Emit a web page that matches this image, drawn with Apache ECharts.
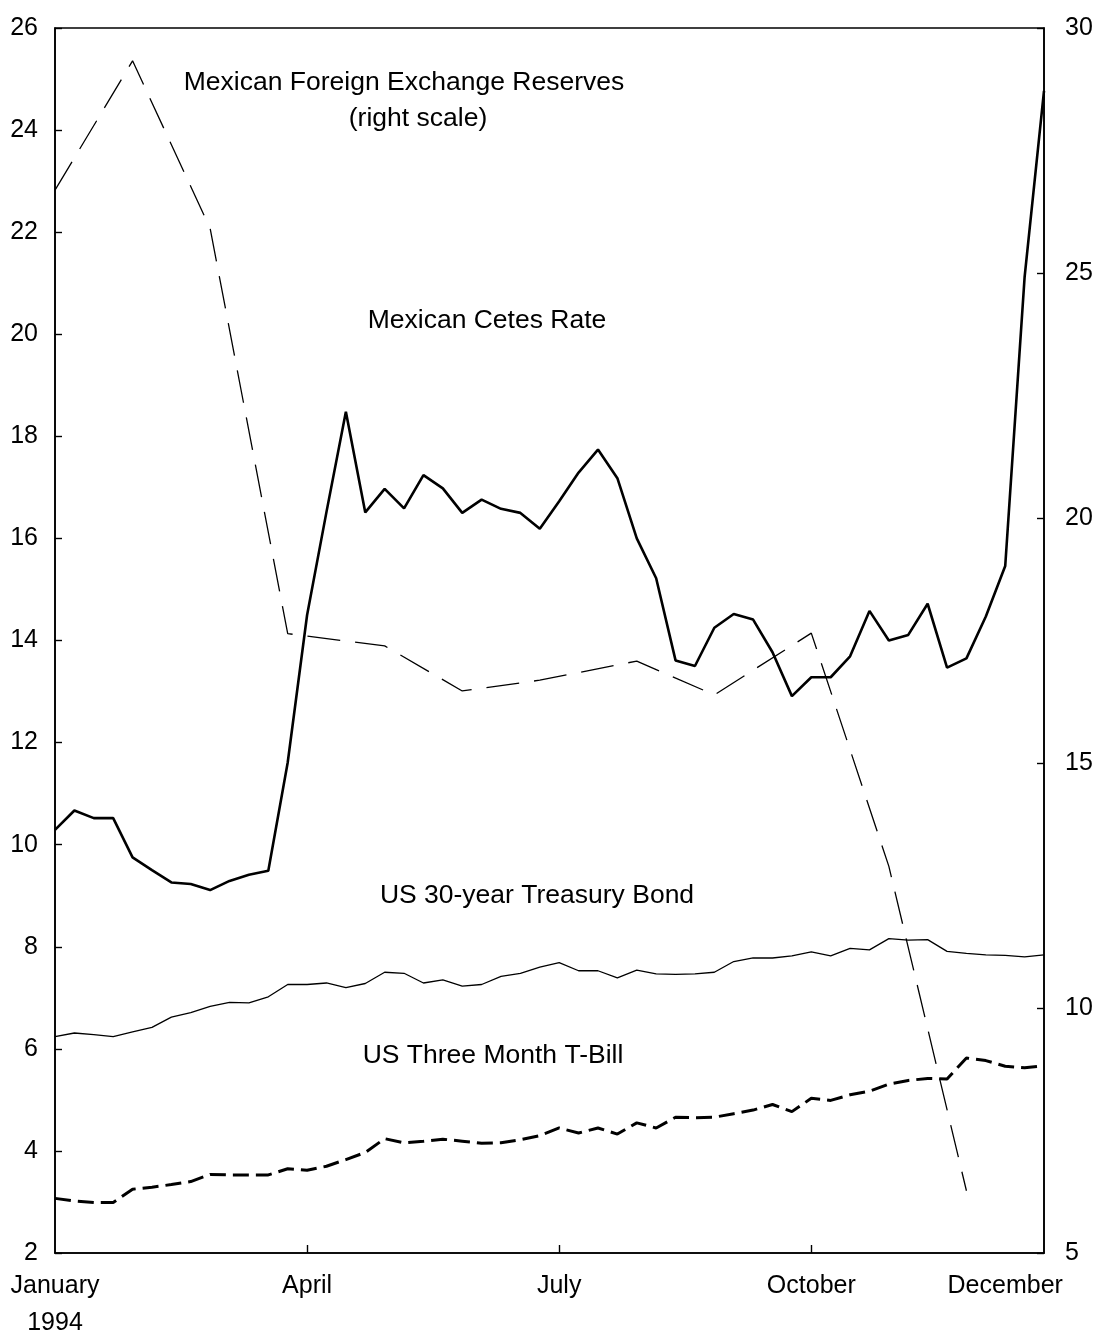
<!DOCTYPE html>
<html><head><meta charset="utf-8">
<script src="https://cdn.jsdelivr.net/npm/echarts@6/dist/echarts.min.js"></script>
<style>html,body{margin:0;padding:0;background:#fff}#c{width:1104px;height:1331px}</style>
</head><body><div id="c"></div>
<script>
// Weekly observations, 1994 (Fridays)
const weeks = ['1994-01-07','1994-01-14','1994-01-21','1994-01-28','1994-02-04','1994-02-11','1994-02-18','1994-02-25',
 '1994-03-04','1994-03-11','1994-03-18','1994-03-25','1994-04-01','1994-04-08','1994-04-15','1994-04-22','1994-04-29',
 '1994-05-06','1994-05-13','1994-05-20','1994-05-27','1994-06-03','1994-06-10','1994-06-17','1994-06-24',
 '1994-07-01','1994-07-08','1994-07-15','1994-07-22','1994-07-29','1994-08-05','1994-08-12','1994-08-19','1994-08-26',
 '1994-09-02','1994-09-09','1994-09-16','1994-09-23','1994-09-30','1994-10-07','1994-10-14','1994-10-21','1994-10-28',
 '1994-11-04','1994-11-11','1994-11-18','1994-11-25','1994-12-02','1994-12-09','1994-12-16','1994-12-23','1994-12-30'];

const xLabelIndex = [0, 13, 26, 39, 49];
const xLabels = ['January\n1994', 'April', 'July', 'October', 'December'];
const xTickIndex = [13, 26, 39];

// Left scale (percent)
const leftMin = 2, leftMax = 26, leftStep = 2;
// Right scale (billions of US dollars)
const rightMin = 5, rightMax = 30, rightStep = 5;

// Mexican Cetes rate (left scale)
const cetes = [10.29,10.67,10.52,10.52,9.75,9.5,9.26,9.23,9.11,9.29,9.41,9.49,11.61,14.5,16.52,18.48,16.51,16.97,16.59,17.24,
 16.98,16.5,16.76,16.58,16.5,16.19,16.73,17.29,17.74,17.18,16.0,15.22,13.61,13.5,14.25,14.52,14.41,13.77,12.91,13.28,
 13.28,13.69,14.58,14.0,14.11,14.72,13.47,13.65,14.47,15.46,21.12,24.77];

// US 30-year Treasury bond (left scale)
const treasury = [6.24,6.31,6.28,6.24,6.33,6.42,6.62,6.71,6.83,6.91,6.9,7.02,7.26,7.26,7.29,7.2,7.28,7.5,7.48,7.29,
 7.35,7.23,7.26,7.42,7.48,7.6,7.69,7.53,7.53,7.39,7.54,7.47,7.46,7.47,7.5,7.71,7.78,7.78,7.82,7.9,
 7.82,7.97,7.94,8.16,8.13,8.14,7.91,7.87,7.84,7.83,7.8,7.84];

// US three month T-bill (left scale)
const tbill = [3.07,3.02,2.99,2.99,3.25,3.29,3.34,3.4,3.54,3.53,3.53,3.53,3.65,3.62,3.7,3.83,3.97,4.24,4.16,4.19,
 4.23,4.19,4.15,4.16,4.22,4.3,4.45,4.35,4.45,4.33,4.55,4.45,4.66,4.65,4.66,4.73,4.8,4.91,4.77,5.03,
 4.99,5.1,5.17,5.31,5.38,5.42,5.41,5.82,5.77,5.66,5.63,5.67];

// Mexican foreign exchange reserves (right scale), monthly observations
const reserves = [26.69,null,null,null,29.33,null,null,null,25.91,null,null,null,17.64,null,null,null,null,
 17.39,null,null,null,16.47,null,null,null,16.69,null,null,null,null,17.08,null,null,null,
 16.39,null,null,null,null,17.65,null,null,null,12.89,null,null,null,6.27,null,null,null,null];

const FONT = "'Liberation Sans', Arial, sans-serif";

const annotations = [
  {text: 'Mexican Foreign Exchange Reserves', x: 404, y: 83},
  {text: '(right scale)', x: 418, y: 119},
  {text: 'Mexican Cetes Rate', x: 487, y: 321},
  {text: 'US 30-year Treasury Bond', x: 537, y: 896},
  {text: 'US Three Month T-Bill', x: 493, y: 1056}
];

const chart = echarts.init(document.getElementById('c'), null, {renderer: 'canvas'});
const axisLine = {show: true, lineStyle: {color: '#000', width: 1.6}};
chart.setOption({
  animation: false,
  backgroundColor: '#fff',
  grid: {left: 55, right: 60, top: 28, bottom: 78, show: true, borderColor: '#000', borderWidth: 1.6,
         containLabel: false, outerBoundsMode: 'none'},
  xAxis: {
    type: 'category', data: weeks, boundaryGap: false,
    axisLine: axisLine,
    axisTick: {show: true, inside: true, length: 8, lineStyle: {color: '#000', width: 1.4},
      interval: (i) => xTickIndex.includes(i)},
    axisLabel: {
      interval: (i) => xLabelIndex.includes(i),
      formatter: (v, i) => { const k = xLabelIndex.indexOf(i); return k >= 0 ? xLabels[k] : ''; },
      color: '#000', fontSize: 25, fontFamily: FONT, margin: 15, lineHeight: 37,
      hideOverlap: false
    },
    splitLine: {show: false}
  },
  yAxis: [
    {type: 'value', position: 'left', min: leftMin, max: leftMax, interval: leftStep,
     axisLine: axisLine,
     axisTick: {show: true, inside: true, length: 7, lineStyle: {color: '#000', width: 1.4}},
     axisLabel: {color: '#000', fontSize: 25, fontFamily: FONT, margin: 17},
     splitLine: {show: false}},
    {type: 'value', position: 'right', min: rightMin, max: rightMax, interval: rightStep,
     axisLine: axisLine,
     axisTick: {show: true, inside: true, length: 7, lineStyle: {color: '#000', width: 1.4}},
     axisLabel: {color: '#000', fontSize: 25, fontFamily: FONT, margin: 21},
     splitLine: {show: false}}
  ],
  series: [
    {name: 'Mexican Foreign Exchange Reserves', type: 'line', yAxisIndex: 1, data: reserves, connectNulls: true,
     symbol: 'none', lineStyle: {color: '#000', width: 1.3, type: [33, 15]}},
    {name: 'Mexican Cetes Rate', type: 'line', yAxisIndex: 0, data: cetes,
     symbol: 'none', lineStyle: {color: '#000', width: 2.6}},
    {name: 'US 30-year Treasury Bond', type: 'line', yAxisIndex: 0, data: treasury,
     symbol: 'none', lineStyle: {color: '#000', width: 1.3}},
    {name: 'US Three Month T-Bill', type: 'line', yAxisIndex: 0, data: tbill,
     symbol: 'none', lineStyle: {color: '#000', width: 3, type: [16, 7]}}
  ],
  graphic: annotations.map(a => ({
    type: 'text', x: a.x, y: a.y, silent: true,
    style: {text: a.text, fill: '#000', fontSize: 26.5, fontFamily: FONT, align: 'center', verticalAlign: 'middle'}
  }))
});
</script>
</body></html>
